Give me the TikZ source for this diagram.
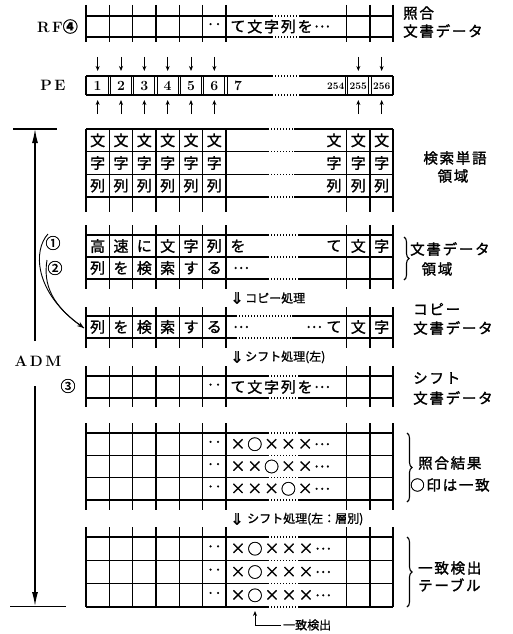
\documentclass[tikz,border=0pt]{standalone}
\usepackage{fontspec}
\usetikzlibrary{arrows.meta,decorations.pathreplacing}
\newfontfamily\jp[FakeBold=1.2]{Noto Sans CJK JP}
\newfontfamily\jpthin{Noto Sans CJK JP}
\newfontfamily\jplab[LetterSpace=12,FakeBold=1.6]{Noto Sans CJK JP}
\newfontfamily\dvs[FakeBold=1.5]{DejaVu Sans}
% #1 ytop, #2 nrows, #3 row height, #4 tick above, #5 tick below, #6 dot start, #7 dot end
\newcommand\drawgrid[7]{%
  \pgfmathsetmacro\gyb{#1+#2*#3}%
  \foreach \xx in {86,109.33,132.67,156,179.33,202.67,226,346.67,370,393}{%
    \draw[gl] (\xx,{#1-#4}) -- (\xx,{\gyb+#5});}%
  \foreach \r in {0,...,#2}{%
    \pgfmathsetmacro\gyy{#1+\r*#3}%
    \draw[gl] (86,\gyy) -- (#6,\gyy);
    \draw[gd] (#6,\gyy) -- (#7,\gyy);
    \draw[gl] (#7,\gyy) -- (393,\gyy);}%
}
% cells 1..6 : #1 y, #2 name prefix, #3 list
\newcommand\sixcells[3]{%
  \foreach \c [count=\k from 0] in {#3}{%
    \node[ct] (#2\k) at ({97.67+23.333*\k},#1) {\c};}%
}
% glyph run in wide column: #1 y, #2 x start, #3 step, #4 name prefix, #5 list
\newcommand\widerun[5]{%
  \foreach \c [count=\k from 0] in {#5}{%
    \node[ct] (#4\k) at ({#2+#3*\k},#1) {\c};}%
}
\begin{document}
\begin{tikzpicture}[x=1pt,y=-1pt,
  gl/.style={line width=1.4pt},
  gd/.style={line width=1.3pt,dash pattern=on 1.2pt off 1.8pt},
  ct/.style={inner sep=0pt,font=\jp\fontsize{15}{15}\selectfont},
  lab/.style={inner sep=0pt,anchor=west,font=\jplab\fontsize{14.5}{15}\selectfont},
  proc/.style={inner sep=0pt,anchor=west,font=\jp\fontsize{12}{12}\selectfont},
  dbl/.style={inner sep=0pt,font=\dvs\fontsize{16}{16}\selectfont},
  circ/.style={inner sep=0pt,font=\jp\fontsize{15}{15}\selectfont},
  pen/.style={inner sep=0pt,font=\bfseries\fontsize{14}{14}\selectfont},
  pes/.style={inner sep=0pt,font=\bfseries\fontsize{10}{10}\selectfont},
  big/.style={inner sep=0pt,font=\bfseries\fontsize{15}{15}\selectfont},
  sarrow/.style={line width=1pt,-{Stealth[length=5pt,width=4pt]}},
  bigarrow/.style={line width=1.2pt,-{Latex[length=14pt,width=6pt]}},
  brc/.style={line width=1.1pt,decorate,decoration={brace,amplitude=5pt}}]
\fill[white] (0,0) rectangle (513,634);
\useasboundingbox (0,0) rectangle (513,634);

% ---------------- RF row
\drawgrid{16}{1}{21}{11}{5}{272}{300}
\node[big,anchor=east] (rf) at (78,26.5) {R\,F{\jp ④}};
\node[ct] (rfdots) at (214.33,26.5) {‥};
\widerun{26.5}{238}{16.8}{rft}{て,文,字,列,を,…}
\node[lab] (l1a) at (403,13) {照合};
\node[lab] (l1b) at (403,31) {文書データ};

% down arrows
\foreach \c [count=\i] in {97.67,121,144.33,167.67,191,214.33,358.33,381.67}{
  \coordinate (da\i) at (\c,57);
  \coordinate (db\i) at (\c,71);
  \draw[sarrow] (da\i) -- (db\i);
}

% ---------------- PE row
\draw[gl] (86,76) -- (86,95);
\draw[gl] (393,76) -- (393,95);
\foreach \yy in {76,95}{
  \draw[gl] (86,\yy) -- (272,\yy);
  \draw[gd] (272,\yy) -- (300,\yy);
  \draw[gl] (300,\yy) -- (393,\yy);
}
\foreach \xx in {109.33,132.67,156,179.33,202.67,226,346.67,370}{
  \draw[line width=1pt] ({\xx-1.1},76) -- ({\xx-1.1},95);
  \draw[line width=1pt] ({\xx+1.1},76) -- ({\xx+1.1},95);
}
\node[big] (pe) at (53,85.5) {P\,E};
\foreach \n [count=\k from 0] in {1,...,6}{
  \node[pen] (pe\n) at ({97.67+23.333*\k},86) {\n};
}
\node[pen] (pe7) at (238,86) {7};
\node[pes,anchor=east] (pe254) at (344.5,86) {254};
\node[pes] (pe255) at (358.33,86) {255};
\node[pes] (pe256) at (381.67,86) {256};

% up arrows
\foreach \c [count=\i] in {97.67,121,144.33,167.67,191,214.33,358.33,381.67}{
  \coordinate (ua\i) at (\c,114);
  \coordinate (ub\i) at (\c,100);
  \draw[sarrow] (ua\i) -- (ub\i);
}

% ---------------- search word area
\drawgrid{129}{3}{22.667}{0}{15}{268}{294}
\sixcells{140.3}{sa}{文,文,文,文,文,文}
\sixcells{163}{sb}{字,字,字,字,字,字}
\sixcells{185.7}{sc}{列,列,列,列,列,列}
\foreach \yy/\ch [count=\i] in {140.3/文,163/字,185.7/列}{
  \node[ct] (sw\i) at (334,\yy) {\ch};
  \node[ct] (sx\i) at (358.33,\yy) {\ch};
  \node[ct] (sy\i) at (381.67,\yy) {\ch};
}
\node[lab,anchor=center] (l2a) at (455,158) {検索単語};
\node[lab,anchor=center] (l2b) at (453,176) {領域};

% ---------------- document data area
\drawgrid{235}{2}{22}{10}{10}{268}{298}
\sixcells{246}{da}{高,速,に,文,字,列}
\node[ct] (dao) at (238,246) {を};
\node[ct] (date) at (334,246) {て};
\node[ct] (dabun) at (358.33,246) {文};
\node[ct] (daji) at (381.67,246) {字};
\sixcells{268}{db}{列,を,検,索,す,る}
\node[ct] (dbdots) at (241,268) {…};
\coordinate (br1a) at (404,237);
\coordinate (br1b) at (404,280);
\draw[brc] (br1a) -- (br1b);
\node[lab] (l3a) at (410,249) {文書データ};
\node[lab,anchor=center] (l3b) at (437,269) {領域};
\node[circ] (n1) at (53,243) {①};
\node[circ] (n2) at (55,268) {②};

% copy process
\node[dbl] (cpar) at (237,298) {⇓};
\node[proc] (cptx) at (245,298) {コピー処理};

% ---------------- copy row
\drawgrid{316}{1}{22}{9}{10}{236}{292}
\sixcells{327}{cp}{列,を,検,索,す,る}
\node[ct] (cpd1) at (241,327) {…};
\node[ct] (cpd2) at (314,327) {…};
\node[ct] (cpte) at (334,327) {て};
\node[ct] (cpbun) at (358.33,327) {文};
\node[ct] (cpji) at (381.67,327) {字};
\node[lab] (l4a) at (413,309) {コピー};
\node[lab] (l4b) at (413,328) {文書データ};

% curved arrow from 1,2
\coordinate (ca) at (48,234);
\coordinate (cb) at (47,260);
\coordinate (ctip) at (84,328);
\draw[line width=0.9pt,-{Stealth[length=7pt,width=5pt,open]}] (ca) .. controls (33,250) and (34,292) .. (ctip);
\draw[line width=0.9pt] (cb) .. controls (43,285) and (52,306) .. (ctip);

% shift process
\node[dbl] (shar) at (237,357) {⇓};
\node[proc] (shtx) at (245,357) {シフト処理(左)};

% ---------------- shift row
\drawgrid{376}{1}{22}{10}{9}{268}{298}
\node[ct] (shdots) at (214.33,387) {‥};
\widerun{387}{238}{16.8}{sht}{て,文,字,列,を,…}
\node[circ] (n3) at (68,386) {③};
\node[lab] (l5a) at (413,378) {シフト};
\node[lab] (l5b) at (413,398) {文書データ};

% ---------------- ADM
\node[big] (adm) at (38,361) {A\,D\,M};
\coordinate (admtop) at (35,129);
\coordinate (admbot) at (35,606);
\coordinate (adma) at (35,341);
\coordinate (admb) at (35,386);
\draw[bigarrow] (adma) -- (admtop);
\draw[bigarrow] (admb) -- (admbot);
\coordinate (tl1) at (13,129);
\coordinate (tl2) at (57,129);
\draw[line width=1.3pt] (tl1) -- (tl2);
\coordinate (bl1) at (10,606.5);
\coordinate (bl2) at (66,606.5);
\draw[line width=1.3pt] (bl1) -- (bl2);

% ---------------- matching result
\drawgrid{433}{3}{22.333}{10}{10}{268}{298}
\foreach \yy [count=\i] in {444.2,466.5,488.8}{
  \node[ct] (md\i) at (214.33,\yy) {‥};
}
\widerun{444.2}{238}{16.8}{ma}{×,○,×,×,×,…}
\widerun{466.5}{238}{16.8}{mb}{×,×,○,×,×,…}
\widerun{488.8}{238}{16.8}{mc}{×,×,×,○,×,…}
\coordinate (br2a) at (407,433);
\coordinate (br2b) at (407,502);
\draw[brc] (br2a) -- (br2b);
\node[lab] (l6a) at (418,463) {照合結果};
\node[lab] (l6b) at (410,485) {○印は一致};

% shift process 2
\node[dbl] (sh2ar) at (237,519) {⇓};
\node[proc] (sh2tx) at (247,519) {シフト処理(左：層別)};

% ---------------- match detection table
\drawgrid{537}{3}{23.333}{10}{0}{268}{298}
\foreach \yy [count=\i] in {548.7,572,595.3}{
  \node[ct] (td\i) at (214.33,\yy) {‥};
}
\widerun{548.7}{238}{17}{ta}{×,○,×,×,×,…}
\widerun{572}{238}{17}{tb}{×,○,×,×,×,…}
\widerun{595.3}{238}{17}{tc}{×,○,×,×,×,…}
\coordinate (br3a) at (407,537);
\coordinate (br3b) at (407,607);
\draw[brc] (br3a) -- (br3b);
\node[lab] (l7a) at (418,568) {一致検出};
\node[lab] (l7b) at (418,585) {テーブル};

% detection marker
\coordinate (dta) at (255,611);
\coordinate (dtb) at (255,625);
\coordinate (dtc) at (281,625);
\draw[line width=1pt,-{Stealth[length=5pt,width=4pt]}] (dtc) -- (dtb) -- (dta);
\node[proc] (dttx) at (283,625) {一致検出};
\end{tikzpicture}
\end{document}
